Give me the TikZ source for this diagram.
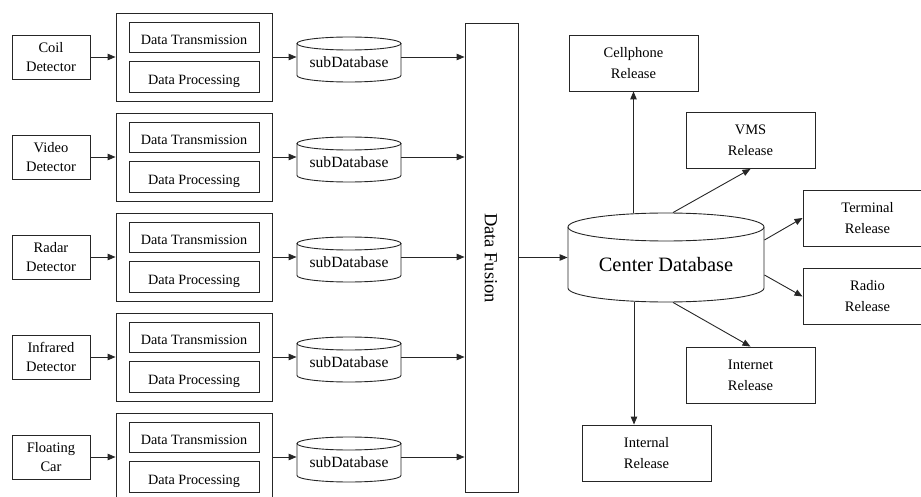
\documentclass[tikz,border=0pt]{standalone}
\usepackage{fontspec}
\setmainfont{Liberation Serif}
\usetikzlibrary{arrows.meta}

\tikzset{
  detbox/.style={draw, align=center, inner sep=0pt, minimum width=78pt, minimum height=44pt,
    font=\fontsize{14.5}{19}\selectfont},
  procbox/.style={draw, inner sep=0pt, minimum width=156pt, minimum height=88pt},
  stepbox/.style={draw, inner sep=0pt, minimum width=130pt, minimum height=30.5pt,
    text height=14.4pt, text depth=0pt, font=\fontsize{14.2}{17}\selectfont},
  subdb/.style={inner sep=0pt, minimum width=104pt, minimum height=20pt,
    font=\fontsize{15.6}{18}\selectfont},
  relbox/.style={draw, align=center, inner sep=0pt, minimum width=129pt, minimum height=56pt,
    font=\fontsize{14.5}{21}\selectfont}
}

\begin{document}
\begin{tikzpicture}[x=1pt, y=-1pt, line width=0.9pt, draw=black!85,
    >={Triangle[length=8pt,width=6.5pt]}]
     \clip (0,0) rectangle (921,497);

     % Fusion column, all rows feed into it
     \node[draw, minimum width=53pt, minimum height=469pt, inner sep=0pt] (fusion) at (491.5,257.5) {};
     \node[rotate=-90, font=\fontsize{18.5}{20}\selectfont] (fusionlabel) at (491,258) {Data Fusion};

      %%%%%%%%%%%%%%%%%%%%%%%%%%%%%%%%%%%%%%%%%%%%%%
      %%% One row per detector
      %%%%%%%%%%%%%%%%%%%%%%%%%%%%%%%%%%%%%%%%%%%%%
     \foreach \lbl [count=\i from 0] in {Coil\\Detector, Video\\Detector, Radar\\Detector,
                                         Infrared\\Detector, Floating\\Car}
     {
         \node[detbox] (det\i) at (51,57+100*\i) {\lbl};
         \node[procbox] (proc\i) at (194,57+100*\i) {};
         \node[stepbox] (trans\i) at (194,37.5+100*\i) {Data Transmission};
         \node[stepbox] (dproc\i) at (194,77+100*\i) {Data Processing};
         % sub database drum
         \draw (349,43.5+100*\i) ellipse [x radius=52, y radius=6.5];
         \draw (297,43.5+100*\i) -- (297,75.5+100*\i)
             arc [start angle=180, end angle=0, x radius=52, y radius=6.5] -- (401,43.5+100*\i);
         \node[subdb] (sub\i) at (349,62+100*\i) {subDatabase};
         % flow of the row
         \draw [->] (det\i) -- (proc\i);
         \draw [->] (proc\i) -- (proc\i -| sub\i.west);
         \draw [->] (sub\i.east |- proc\i) -- (fusion.west |- proc\i);
     }

      %%%%%%%%%%%%%%%%%%%%%%%%%%%%%%%%%%%%%%%%%%
      %%% Center database and the releases
      %%%%%%%%%%%%%%%%%%%%%%%%%%%%%%%%%%%%%%%%%%
     \node[inner sep=0pt, minimum width=196pt, minimum height=89pt] (cdb) at (666,257.5) {};
     \draw (666,227) ellipse [x radius=98, y radius=14];
     \draw (568,227) -- (568,288)
         arc [start angle=180, end angle=0, x radius=98, y radius=14] -- (764,227);
     \node[font=\fontsize{20.4}{22}\selectfont] (cdbtext) at (666,265) {Center Database};

     \draw [->] (fusion.east |- cdb) -- (cdb.west);

     \node[relbox] (cell) at (633.5,63) {Cellphone\\Release};
     \node[relbox] (vms) at (750.5,140.5) {VMS\\Release};
     \node[relbox] (term) at (867.5,218) {Terminal\\Release};
     \node[relbox] (radio) at (867.5,296.5) {Radio\\Release};
     \node[relbox] (inet) at (750.5,375) {Internet\\Release};
     \node[relbox] (intl) at (646.5,453) {Internal\\Release};

     % Release paths out of the center database
     \coordinate (cdbdown) at ([xshift=-32pt]cdb.south);
     \draw [->] (cell.south |- cdb.north) -- (cell.south);
     \draw [->] ([xshift=7pt]cdb.north) -- (vms.south);
     \draw [->] ([yshift=17.5pt]cdb.east) -- (term.west);
     \draw [->] ([yshift=-17.5pt]cdb.east) -- (radio.west);
     \draw [->] ([xshift=7pt]cdb.south) -- (inet.north);
     \draw [->] (cdbdown) -- (cdbdown |- intl.north);
\end{tikzpicture}
\end{document}
